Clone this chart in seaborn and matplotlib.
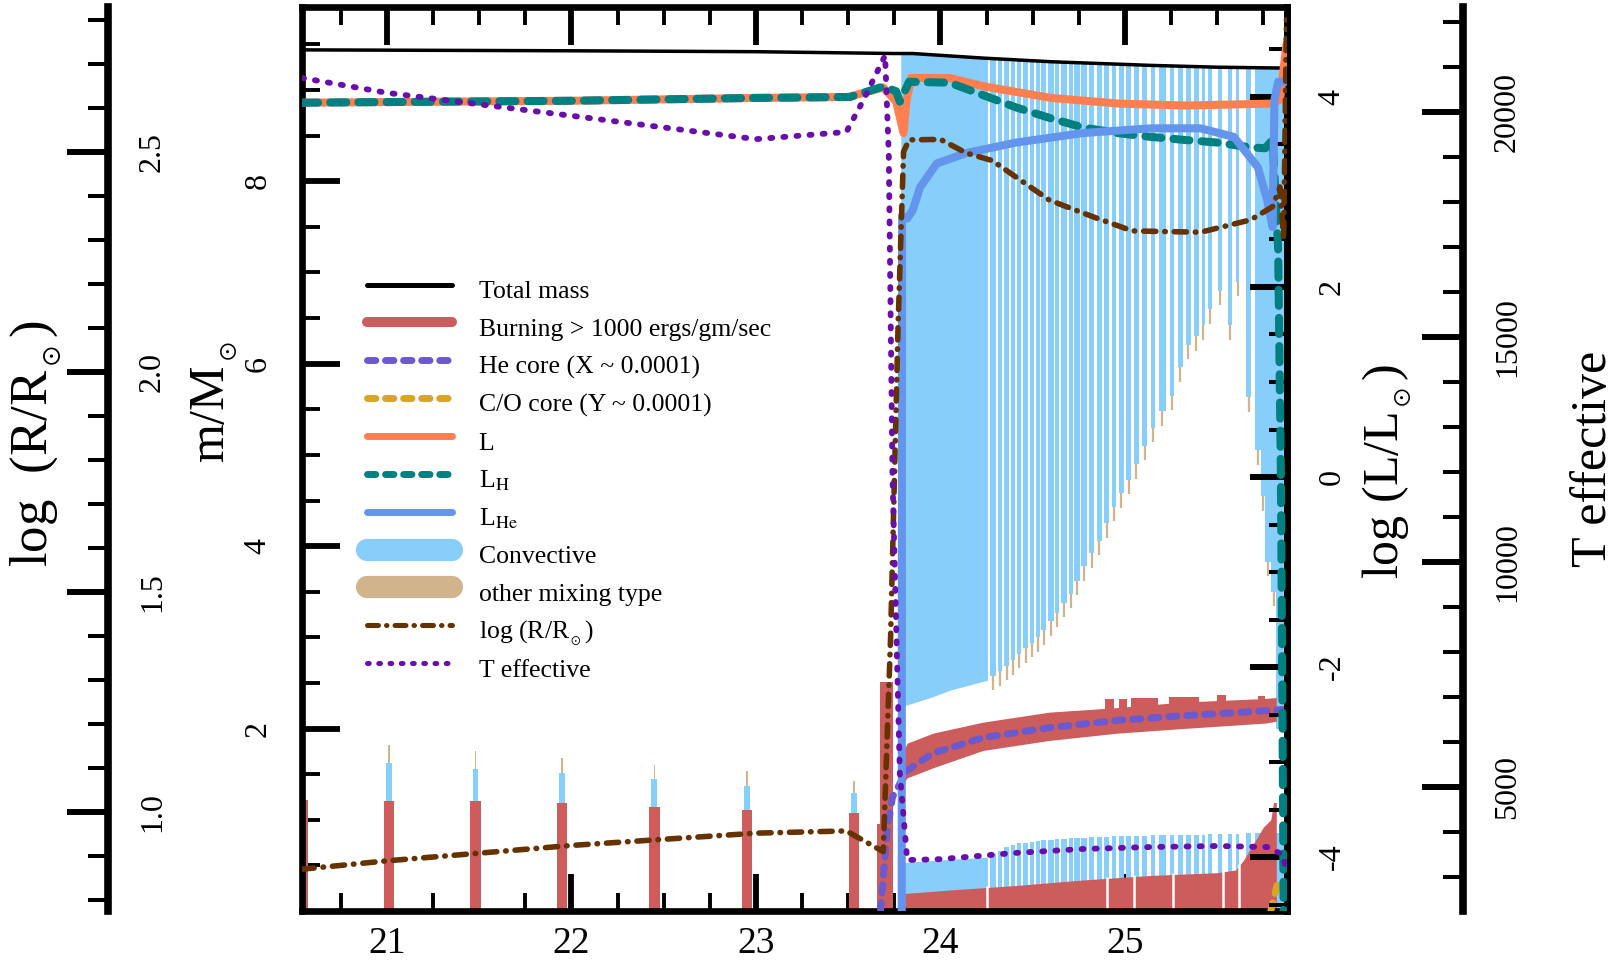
import numpy as np
import matplotlib
matplotlib.use("Agg")
import matplotlib.pyplot as plt
from matplotlib.lines import Line2D
from matplotlib.ticker import MultipleLocator, FixedLocator, FormatStrFormatter
import seaborn as sns

# ------------------------------------------------------------------
# Evolution data (time coordinate on the x axis)
# ------------------------------------------------------------------
time_lim = (20.54, 25.878)

# total stellar mass [Msun]
mass_t = [20.54, 22.00, 23.00, 23.75, 23.85, 24.23, 24.60, 25.14, 25.50, 25.88]
mass_tot = [9.44, 9.43, 9.42, 9.40, 9.40, 9.35, 9.31, 9.27, 9.25, 9.24]

# pulses before the flash: burning / convective / other-mixing tops [Msun]
pulse_t = [20.545, 21.01, 21.48, 21.95, 22.45, 22.95, 23.53]
pulse_burn_top = [1.22, 1.21, 1.21, 1.18, 1.14, 1.11, 1.07]
pulse_conv_top = [1.22, 1.62, 1.56, 1.51, 1.45, 1.37, 1.29]
pulse_mix_top = [1.22, 1.82, 1.75, 1.68, 1.60, 1.53, 1.42]

# burning columns at the flash
flash_left = [23.655, 23.675]
flash_right = [23.675, 23.745]
flash_top = [0.95, 2.51]

# H-shell burning band
shell_t = [23.79, 23.82, 23.96, 24.23, 24.59, 24.96, 25.31, 25.76, 25.82]
shell_lo = [1.38, 1.46, 1.57, 1.76, 1.87, 1.95, 2.00, 2.06, 2.08]
shell_hi = [1.72, 1.84, 1.95, 2.07, 2.18, 2.23, 2.29, 2.33, 2.34]
bump_left = [24.89, 24.97, 25.03, 25.24, 25.50, 25.72]
bump_right = [24.94, 25.01, 25.18, 25.40, 25.55, 25.76]
bump_top = [2.32, 2.32, 2.34, 2.35, 2.37, 2.36]

# core He burning region
core_t = [23.79, 24.05, 24.41, 24.77, 25.14, 25.50, 25.60, 25.64, 25.70, 25.75, 25.79, 25.805, 25.82]
core_top = [0.19, 0.23, 0.28, 0.34, 0.39, 0.42, 0.45, 0.55, 0.75, 0.92, 1.00, 1.19, 1.19]
core_gap_t = [24.25, 24.90, 25.05, 25.26, 25.53, 25.62]

# convective envelope (continuous part) and convective core
env_t = [23.785, 23.82, 23.96, 24.05, 24.255]
env_bot = [2.25, 2.26, 2.35, 2.42, 2.53]
core_conv_t = [23.79, 24.00, 24.255]
core_conv_top = [0.53, 0.56, 0.59]

# intermittent convective zones (one column per model block)
stripe_left = [24.268, 24.310, 24.345, 24.382, 24.415, 24.448, 24.484, 24.516, 24.547, 24.584,
               24.623, 24.655, 24.694, 24.726, 24.764, 24.806, 24.846, 24.888, 24.928, 24.968,
               25.008, 25.048, 25.090, 25.140, 25.182, 25.242, 25.285, 25.332, 25.375, 25.415,
               25.450, 25.505, 25.560, 25.600, 25.655, 25.705, 25.735, 25.760, 25.790, 25.820]
stripe_right = [24.300, 24.335, 24.372, 24.405, 24.438, 24.474, 24.506, 24.537, 24.574, 24.613,
                24.645, 24.684, 24.716, 24.754, 24.794, 24.834, 24.874, 24.914, 24.954, 24.994,
                25.034, 25.074, 25.122, 25.165, 25.222, 25.266, 25.315, 25.356, 25.400, 25.435,
                25.472, 25.525, 25.580, 25.620, 25.685, 25.735, 25.760, 25.790, 25.820, 25.865]
stripe_bot = [2.58, 2.63, 2.69, 2.75, 2.82, 2.88, 2.94, 3.00, 3.08, 3.18,
              3.27, 3.38, 3.48, 3.62, 3.78, 3.92, 4.06, 4.25, 4.43, 4.58,
              4.73, 4.90, 5.10, 5.30, 5.48, 5.65, 5.96, 6.21, 6.30, 6.42,
              6.60, 6.80, 6.42, 6.90, 5.63, 5.05, 4.55, 3.83, 3.50, 2.00]
stripe_core_top = [0.62, 0.66, 0.70, 0.72, 0.74, 0.75, 0.76, 0.77, 0.78, 0.78,
                   0.79, 0.79, 0.80, 0.80, 0.80, 0.81, 0.81, 0.81, 0.82, 0.82,
                   0.82, 0.82, 0.82, 0.83, 0.83, 0.83, 0.83, 0.83, 0.83, 0.83,
                   0.84, 0.84, 0.84, 0.84, 0.85, 0.86, 0.86, 0.86, 0.86, 0.86]
mix_tail = 0.16

# He core and C/O core boundaries [Msun]
he_t = [23.675, 23.71, 23.74, 23.82, 23.96, 24.23, 24.59, 24.96, 25.31, 25.80, 25.86]
he_m = [0.00, 0.85, 1.25, 1.54, 1.73, 1.90, 2.01, 2.09, 2.14, 2.20, 2.21]
co_t = [25.79, 25.805, 25.82, 25.835]
co_m = [0.00, 0.12, 0.25, 0.36]

# luminosities [log L/Lsun]
L_t = [20.54, 22.00, 23.00, 23.50, 23.69, 23.76, 23.80, 23.815, 23.84, 24.05, 24.24,
       24.60, 24.97, 25.33, 25.79, 25.84, 25.875]
L_v = [3.94, 3.96, 3.99, 4.00, 4.10, 3.95, 3.62, 3.95, 4.20, 4.20, 4.11,
       3.99, 3.93, 3.91, 3.93, 3.97, 4.55]
LH_t = [20.54, 22.00, 23.00, 23.51, 23.69, 23.76, 23.78, 23.83, 24.05, 24.23, 24.41, 24.59,
        24.77, 24.96, 25.14, 25.31, 25.50, 25.68, 25.76, 25.80, 25.815, 25.83, 25.845, 25.855, 25.86]
LH_v = [3.94, 3.96, 3.99, 4.00, 4.11, 4.06, 3.95, 4.16, 4.15, 4.02, 3.89, 3.78,
        3.68, 3.62, 3.58, 3.55, 3.52, 3.47, 3.46, 3.55, 3.00, 2.40, 0.00, -3.00, -4.60]
LHe_t = [23.79, 23.792, 23.82, 23.85, 23.89, 23.98, 24.14, 24.41, 24.77, 25.14, 25.41,
         25.59, 25.72, 25.77, 25.80, 25.81, 25.83, 25.87]
LHe_v = [-4.60, 2.75, 2.72, 2.81, 3.05, 3.30, 3.41, 3.52, 3.62, 3.67, 3.67,
         3.58, 3.26, 2.92, 2.63, 3.97, 4.16, 4.16]

# radius [log R/Rsun]
R_t = [20.54, 21.00, 22.00, 23.00, 23.49, 23.69, 23.73, 23.77, 23.80, 23.83, 24.00, 24.14,
       24.28, 24.59, 24.84, 25.04, 25.41, 25.68, 25.80, 25.84, 25.86, 25.875]
R_v = [0.869, 0.888, 0.923, 0.951, 0.956, 0.909, 1.40, 2.10, 2.50, 2.527, 2.528, 2.497,
       2.48, 2.39, 2.35, 2.32, 2.317, 2.345, 2.375, 2.42, 2.30, 2.80]

# effective temperature [K]
Te_t = [20.54, 21.00, 22.00, 23.00, 23.49, 23.58, 23.70, 23.72, 23.74, 23.78, 23.82,
        24.00, 24.40, 24.77, 25.14, 25.50, 25.77, 25.85, 25.88]
Te_v = [20750, 20420, 19910, 19390, 19550, 20240, 21250, 19040, 11900, 5290, 3370,
        3390, 3527, 3616, 3660, 3683, 3660, 3500, 3100]

# ------------------------------------------------------------------
# Style
# ------------------------------------------------------------------
RED, BLUE, TAN = "#CD5C5C", "#87CEFA", "#D2B48C"
CORAL, TEAL, CFBLUE = "#FF7F50", "#008080", "#6495ED"
SLATE, GOLD = "#6A5ACD", "#DAA520"
BROWN, PURPLE = "#663300", "#6A0DAD"

sns.set_theme(style="ticks")
plt.rcParams.update({
    "font.family": ["Liberation Serif", "DejaVu Serif"],
    "mathtext.fontset": "stix",
    "axes.edgecolor": "black",
    "xtick.color": "black",
    "ytick.color": "black",
    "text.color": "black",
})

W, H = 1617, 966
AX_L, AX_R, AX_T, AX_B = 302, 1287, 7, 911
fig = plt.figure(figsize=(W / 100, H / 100), dpi=100)
ax = fig.add_axes([AX_L / W, 1 - AX_B / H, (AX_R - AX_L) / W, (AX_B - AX_T) / H])
ax4 = ax.twinx()   # log L
ax2 = ax.twinx()   # log R
ax3 = ax.twinx()   # T effective

DASH_LH = (2.0, 1.5)
DASH_HE = (1.2, 1.4)
DASH_R = (2.2, 1.6, 0.1, 1.6)
DASH_T = (0.35, 1.9)


def draw_line(axis, x, y, color, lw, dashes=None, z=3):
    sns.lineplot(x=x, y=y, ax=axis, color=color, linewidth=lw, sort=False,
                 estimator=None, legend=False, zorder=z)
    ln = axis.lines[-1]
    ln.set_solid_capstyle("round")
    ln.set_solid_joinstyle("round")
    if dashes is not None:
        ln.set_dashes(dashes)
        ln.set_dash_capstyle("round")
    return ln


# ---- mass coordinate panel --------------------------------------
s_l = np.array(stripe_left)
s_r = np.array(stripe_right)
s_c = 0.5 * (s_l + s_r)
s_top = np.interp(s_c, mass_t, mass_tot)

# convective envelope
env_top = np.interp(env_t, mass_t, mass_tot)
ax.fill_between(env_t, env_bot, env_top, color=BLUE, lw=0, zorder=1)
ax.bar(s_l, s_top - np.array(stripe_bot), bottom=stripe_bot, width=s_r - s_l,
       align="edge", color=BLUE, lw=0, zorder=1)
ax.vlines(s_c[:-1], np.array(stripe_bot[:-1]) - mix_tail, stripe_bot[:-1],
          color=TAN, lw=1.6, zorder=1.2)

# convective core
ax.fill_between(core_conv_t, 0, core_conv_top, color=BLUE, lw=0, zorder=1)
ax.bar(s_l, stripe_core_top, width=s_r - s_l, align="edge", color=BLUE, lw=0, zorder=1)

# pulses
ax.bar(pulse_t, pulse_mix_top, width=0.010, color=TAN, lw=0, zorder=1.1)
ax.bar(pulse_t, pulse_conv_top, width=0.032, color=BLUE, lw=0, zorder=1.2)
ax.bar(pulse_t, pulse_burn_top, width=0.055, color=RED, lw=0, zorder=2)

# burning regions
fl = np.array(flash_left)
ax.bar(fl, flash_top, width=np.array(flash_right) - fl, align="edge", color=RED, lw=0, zorder=2)
ax.fill_between(shell_t, shell_lo, shell_hi, color=RED, lw=0, zorder=2)
bl = np.array(bump_left)
ax.bar(bl, np.array(bump_top) - 2.1, bottom=2.1, width=np.array(bump_right) - bl,
       align="edge", color=RED, lw=0, zorder=2)
ax.fill_between(core_t, 0, core_top, color=RED, lw=0, zorder=2)
ax.vlines(core_gap_t, 0, np.interp(core_gap_t, core_t, core_top) + 0.02,
          color="white", lw=1.8, zorder=2.1)

# mass boundaries
draw_line(ax, mass_t, mass_tot, "black", 2.5, z=3)
draw_line(ax, he_t, he_m, SLATE, 5.0, dashes=DASH_HE, z=3)
draw_line(ax, co_t, co_m, GOLD, 5.0, dashes=DASH_HE, z=3)

# ---- luminosity, radius, temperature ----------------------------
draw_line(ax4, L_t, L_v, CORAL, 5.8)
draw_line(ax4, LH_t, LH_v, TEAL, 5.8, dashes=DASH_LH)
draw_line(ax4, LHe_t, LHe_v, CFBLUE, 5.8)
draw_line(ax2, R_t, R_v, BROWN, 4.0, dashes=DASH_R)
draw_line(ax3, Te_t, Te_v, PURPLE, 4.2, dashes=DASH_T)

# ------------------------------------------------------------------
# Axes, spines and ticks
# ------------------------------------------------------------------
XLABEL_FS = 27
YLABEL_FS = 23
ax.set_xlim(*time_lim)
ax.set_ylim(0, 9.91)
ax4.set_ylim(-4.568, 4.947)
ax2.set_ylim(0.774, 2.829)
ax3.set_ylim(2238, 22327)
for a in (ax, ax2, ax3, ax4):
    a.set_xlabel("")
    a.set_ylabel("")

for sp in ax.spines.values():
    sp.set_linewidth(4.8)
    sp.set_color("black")
    sp.set_visible(True)

ax.xaxis.set_major_locator(FixedLocator([21, 22, 23, 24, 25]))
ax.xaxis.set_minor_locator(MultipleLocator(0.25))
ax.yaxis.set_major_locator(FixedLocator([2, 4, 6, 8]))
ax.yaxis.set_minor_locator(MultipleLocator(0.5))
ax.tick_params(which="both", direction="in", top=True, bottom=True, left=True, right=False,
               labeltop=False, labelright=False, labelbottom=True, labelleft=True)
ax.tick_params(which="major", length=27, width=4.2)
ax.tick_params(which="minor", length=13, width=2.8)
ax.tick_params(axis="x", labelsize=XLABEL_FS, pad=11)
ax.tick_params(axis="y", labelsize=YLABEL_FS, pad=21, labelrotation=90)
ax.xaxis.set_major_formatter(FormatStrFormatter("%d"))
ax.yaxis.set_major_formatter(FormatStrFormatter("%d"))


def right_axis(a, pos, major, minor, fmt, pad, spine_w, maj_len, min_len):
    for name, sp in a.spines.items():
        sp.set_visible(name == "right")
    a.spines["right"].set_position(("axes", pos))
    a.spines["right"].set_linewidth(spine_w)
    a.spines["right"].set_color("black")
    a.yaxis.set_ticks_position("right")
    a.yaxis.set_major_locator(FixedLocator(major))
    a.yaxis.set_minor_locator(MultipleLocator(minor))
    a.yaxis.set_major_formatter(FormatStrFormatter(fmt))
    a.tick_params(axis="y", which="both", direction="in", right=True, left=False,
                  labelright=True, labelleft=False, labelsize=YLABEL_FS, pad=pad,
                  labelrotation=90)
    a.tick_params(axis="y", which="major", length=maj_len, width=4.3)
    a.tick_params(axis="y", which="minor", length=min_len, width=2.9)


right_axis(ax4, 1.0, [-4, -2, 0, 2, 4], 0.5, "%d", 22, 4.8, 27, 13)
right_axis(ax2, (108 - AX_L) / (AX_R - AX_L), [1.0, 1.5, 2.0, 2.5], 0.1, "%.1f", 21.5, 5.5, 29.5, 14.5)
right_axis(ax3, (1463 - AX_L) / (AX_R - AX_L), [5000, 10000, 15000, 20000], 1000, "%d", 21.5, 5.5, 29.5, 14.5)

for a in (ax, ax2, ax3, ax4):
    for t in a.yaxis.get_major_ticks():
        t.label1.set_va("center")
        t.label2.set_va("center")

# axis titles
TITLE_FS = 36
fig.text(36 / W, 1 - 444 / H, r"log  (R/R$_{_\odot}$)", rotation=90, ha="center", va="center", fontsize=TITLE_FS + 2)
fig.text(215 / W, 1 - 402 / H, r"m/M$_{_\odot}$", rotation=90, ha="center", va="center", fontsize=TITLE_FS)
fig.text(1387 / W, 1 - 471 / H, r"log (L/L$_{_\odot}$)", rotation=90, ha="center", va="center", fontsize=TITLE_FS)
fig.text(1594 / W, 1 - 459 / H, "T effective", rotation=90, ha="center", va="center", fontsize=TITLE_FS)

# ------------------------------------------------------------------
# Legend
# ------------------------------------------------------------------
handles = [
    Line2D([], [], color="black", lw=3.6),
    Line2D([], [], color=RED, lw=7.2, solid_capstyle="round"),
    Line2D([], [], color=SLATE, lw=5.0, dashes=DASH_HE, dash_capstyle="round"),
    Line2D([], [], color=GOLD, lw=5.0, dashes=DASH_HE, dash_capstyle="round"),
    Line2D([], [], color=CORAL, lw=5.0, solid_capstyle="round"),
    Line2D([], [], color=TEAL, lw=5.0, dashes=DASH_HE, dash_capstyle="round"),
    Line2D([], [], color=CFBLUE, lw=5.0, solid_capstyle="round"),
    Line2D([], [], color=BLUE, lw=16, solid_capstyle="round"),
    Line2D([], [], color=TAN, lw=16, solid_capstyle="round"),
    Line2D([], [], color=BROWN, lw=3.6, dashes=DASH_R, dash_capstyle="round"),
    Line2D([], [], color=PURPLE, lw=3.6, dashes=DASH_T, dash_capstyle="round"),
]
labels = [
    "Total mass",
    "Burning > 1000 ergs/gm/sec",
    "He core (X ~ 0.0001)",
    "C/O core (Y ~ 0.0001)",
    "L",
    r"L$_{\mathrm{H}}$",
    r"L$_{\mathrm{He}}$",
    "Convective",
    "other mixing type",
    r"log (R/R$_{_\odot}$)",
    "T effective",
]
ax3.legend(handles, labels, loc="upper left", bbox_to_anchor=(0.066, 0.708),
           frameon=False, fontsize=18.5, handlelength=3.3, handletextpad=1.05,
           handleheight=1.89, labelspacing=0.0, borderpad=0, borderaxespad=0)

fig.savefig("out.png", dpi=100, facecolor="white")
